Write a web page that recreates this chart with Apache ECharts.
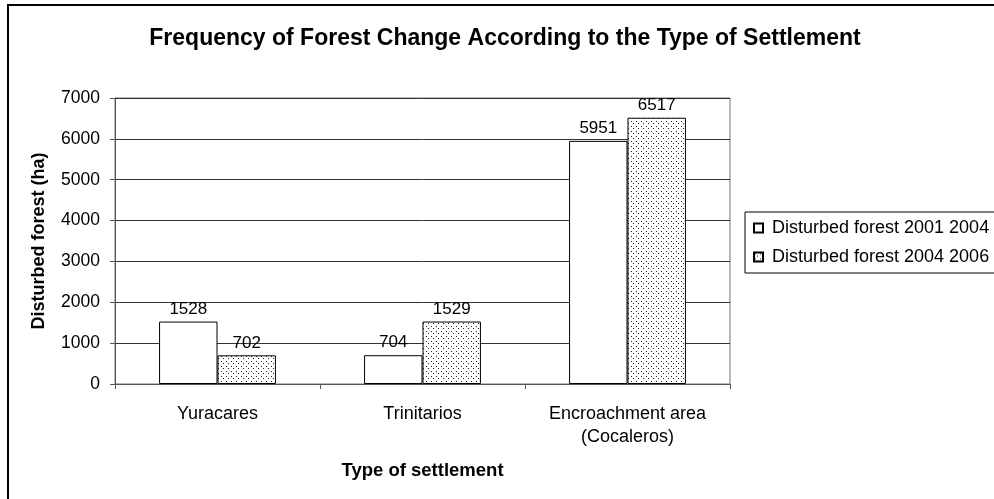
<!DOCTYPE html>
<html>
<head>
<meta charset="utf-8">
<script src="https://cdn.jsdelivr.net/npm/echarts@6/dist/echarts.min.js"></script>
<style>
  html, body { margin: 0; padding: 0; background: #fff; }
  #chart { width: 994px; height: 499px; }
</style>
</head>
<body>
<div id="chart"></div>
<script>
// Disturbed forest (ha) by settlement type
const categories = ['Yuracares', 'Trinitarios', 'Encroachment area\n(Cocaleros)'];
const series2001to2004 = [1528, 704, 5951];
const series2004to2006 = [702, 1529, 6517];
const seriesNames = ['Disturbed forest 2001 2004', 'Disturbed forest 2004 2006'];
const yTicks = { min: 0, max: 7000, interval: 1000 };

const FONT = '"Liberation Sans", Arial, sans-serif';

// Stippled fill: small staggered dots on white
function makeDotPattern() {
  const c = document.createElement('canvas');
  c.width = 5; c.height = 5;
  const ctx = c.getContext('2d');
  ctx.fillStyle = '#fff';
  ctx.fillRect(0, 0, 5, 5);
  ctx.fillStyle = '#222';
  ctx.fillRect(1, 1, 1, 1);
  ctx.fillRect(3, 3, 1, 1);
  return c;
}
const dotFill = { image: makeDotPattern(), repeat: 'repeat' };

const chart = echarts.init(document.getElementById('chart'), null, { renderer: 'canvas' });

const labelStyle = {
  show: true,
  position: 'top',
  distance: 4,
  color: '#000',
  fontFamily: FONT,
  fontSize: 17
};

chart.setOption({
  animation: false,
  backgroundColor: '#fff',
  graphic: [{
    type: 'rect',
    shape: { x: 8, y: 5, width: 1000, height: 520 },
    style: { fill: 'none', stroke: '#000', lineWidth: 2 },
    silent: true
  }],
  title: {
    text: 'Frequency of Forest Change According to the Type of Settlement',
    left: 500,
    textAlign: 'center',
    top: 22,
    textStyle: { fontFamily: FONT, fontSize: 23, fontWeight: 'bold', color: '#000' }
  },
  legend: {
    orient: 'vertical',
    left: 745,
    top: 212,
    width: 300,
    padding: [6, 40, 6, 8],
    itemGap: 9,
    itemWidth: 9,
    itemHeight: 9,
    borderColor: '#000',
    borderWidth: 1,
    icon: 'rect',
    textStyle: { fontFamily: FONT, fontSize: 18, lineHeight: 20, color: '#000', padding: [0, 0, 0, 4] },
    data: seriesNames
  },
  grid: {
    left: 115,
    top: 98,
    width: 615,
    height: 286,
    show: true,
    borderColor: '#777',
    borderWidth: 1
  },
  xAxis: {
    type: 'category',
    data: categories,
    name: 'Type of settlement',
    nameLocation: 'middle',
    nameGap: 77,
    nameTextStyle: { fontFamily: FONT, fontSize: 18.5, fontWeight: 'bold', color: '#000' },
    axisLine: { lineStyle: { color: '#555', width: 1 } },
    axisTick: { show: true, length: 5, lineStyle: { color: '#555' } },
    axisLabel: { margin: 19, fontFamily: FONT, fontSize: 18, color: '#000', lineHeight: 23 }
  },
  yAxis: {
    type: 'value',
    min: yTicks.min,
    max: yTicks.max,
    interval: yTicks.interval,
    name: 'Disturbed forest (ha)',
    nameLocation: 'middle',
    nameGap: 67,
    nameTextStyle: { fontFamily: FONT, fontSize: 18, fontWeight: 'bold', color: '#000' },
    axisLine: { show: true, lineStyle: { color: '#555', width: 1 } },
    axisTick: { show: true, length: 5, lineStyle: { color: '#555' } },
    axisLabel: { margin: 15, fontFamily: FONT, fontSize: 17.5, color: '#000', formatter: v => String(v) },
    splitLine: { show: true, lineStyle: { color: '#333', width: 1 } }
  },
  series: [
    {
      name: seriesNames[0],
      type: 'bar',
      data: series2001to2004,
      barGap: '0%',
      barCategoryGap: '43%',
      itemStyle: { color: '#fff', borderColor: '#000', borderWidth: 1 },
      label: labelStyle
    },
    {
      name: seriesNames[1],
      type: 'bar',
      data: series2004to2006,
      itemStyle: { color: dotFill, borderColor: '#000', borderWidth: 1 },
      label: labelStyle
    }
  ]
});
</script>
</body>
</html>
